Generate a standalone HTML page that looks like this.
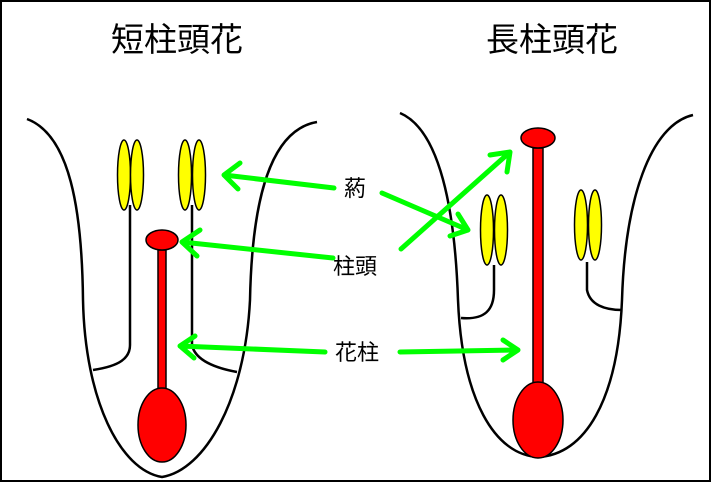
<!DOCTYPE html>
<html><head><meta charset="utf-8"><style>
html,body{margin:0;padding:0;background:#fff}
svg{display:block}
text{font-family:"Liberation Sans","Noto Sans CJK JP",sans-serif;fill:#000}
</style></head><body>
<svg width="711" height="482" viewBox="0 0 711 482">
<rect x="1" y="1" width="709" height="480" fill="#fff" stroke="#000" stroke-width="2"/>
<text x="177" y="51" font-size="33" text-anchor="middle">短柱頭花</text>
<text x="552" y="51" font-size="33" text-anchor="middle">長柱頭花</text>
<g fill="none" stroke="#000" stroke-width="2.5">
<path d="M27,119 C70,135 82,210 83,300 C85,400 120,470 162,477 C205,470 245,400 250,300 C252,200 270,130 317,122"/>
<path d="M93,370 C120,366 130,358 130,345 L130,205"/>
<path d="M192,205 L192,345 C195,360 215,368 237,372"/>
<path d="M400,113 C440,130 455,210 458,300 C462,400 495,455 538,457 C585,455 618,400 622,300 C625,200 650,125 693,115"/>
<path d="M461,318 C485,320 494,310 494,290 L494,265"/>
<path d="M587,262 L587,290 C590,305 605,310 622,310"/>
</g>
<g fill="#ffff00" stroke="#000" stroke-width="1.5">
<ellipse cx="124" cy="175" rx="6.5" ry="35"/><ellipse cx="137" cy="175" rx="6.5" ry="35"/>
<ellipse cx="185" cy="175" rx="6.5" ry="35"/><ellipse cx="199" cy="175" rx="6.5" ry="35"/>
<ellipse cx="487" cy="230" rx="6.5" ry="35"/><ellipse cx="501" cy="230" rx="6.5" ry="35"/>
<ellipse cx="581" cy="225" rx="6.5" ry="35"/><ellipse cx="595" cy="225" rx="6.5" ry="35"/>
</g>
<g fill="#ff0000" stroke="#000" stroke-width="1.5">
<rect x="158" y="250" width="8" height="140"/>
<ellipse cx="162" cy="240" rx="16" ry="10"/>
<ellipse cx="162" cy="425" rx="24" ry="37"/>
<rect x="533" y="148" width="10" height="240"/>
<ellipse cx="538" cy="138" rx="17" ry="10"/>
<ellipse cx="538" cy="420" rx="25" ry="38"/>
</g>
<g stroke="#00ff00" stroke-width="5" fill="none" stroke-linecap="round" stroke-linejoin="round">
<path d="M334,188 L224,175 M240,163 L224,175 L238,189"/>
<path d="M382,193 L468,230 M450,236 L468,230 L458,214"/>
<path d="M333,258 L182,242 M200,230 L182,242 L197,256"/>
<path d="M401,249 L510,152 M490,155 L510,152 L507,172"/>
<path d="M325,352 L180,346 M195,336 L180,346 L194,358"/>
<path d="M400,352 L518,350 M503,340 L518,350 L503,360"/>
</g>
<text x="355" y="196" font-size="22" text-anchor="middle">葯</text>
<text x="355" y="274" font-size="22" text-anchor="middle">柱頭</text>
<text x="357" y="360" font-size="22" text-anchor="middle">花柱</text>
</svg>
</body></html>
